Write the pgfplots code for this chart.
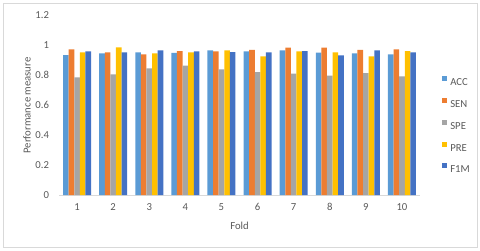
\documentclass[border=0pt]{standalone}
\usepackage{pgfplots}
\pgfplotsset{compat=1.18}
\usepackage{fontspec}
\setmainfont{Carlito}
\definecolor{cACC}{HTML}{5B9BD5}
\definecolor{cSEN}{HTML}{ED7D31}
\definecolor{cSPE}{HTML}{A5A5A5}
\definecolor{cPRE}{HTML}{FFC000}
\definecolor{cF1M}{HTML}{4472C4}
\definecolor{txt}{HTML}{595959}
\definecolor{lgrid}{HTML}{D9D9D9}
\begin{document}
\begin{tikzpicture}[x=1pt,y=1pt]
\useasboundingbox (0,0) rectangle (480,250);
\draw[lgrid, line width=0.75pt] (3,3) rectangle (477,247);
\begin{axis}[
  at={(59pt,55pt)}, anchor=south west,
  scale only axis, width=361pt, height=180pt,
  ybar=0pt, bar width=5.6pt,
  xmin=0.5, xmax=10.5, ymin=0, ymax=1.2,
  xtick={1,...,10},
  ytick={0,0.2,...,1.2},
  yticklabels={0,0.2,0.4,0.6,0.8,1,1.2},
  axis x line*=bottom, axis y line*=left,
  x axis line style={lgrid, line width=0.75pt},
  y axis line style={draw=none},
  major tick length=0pt,
  tick style={draw=none},
  font=\fontsize{10.7}{12}\selectfont,
  ticklabel style={text=txt, font=\fontsize{10.7}{12}\selectfont},
  /pgf/number format/assume math mode=true,
  yticklabel style={xshift=-6.5pt},
  xticklabel style={yshift=-5pt},
  xlabel={Fold}, ylabel={Performance measure},
  label style={text=txt, font=\fontsize{10.7}{12}\selectfont},
  xlabel style={at={(axis description cs:0.5,-0.17)}, anchor=center},
  ylabel style={at={(axis description cs:-0.0886,0.497)}, anchor=center},
  legend style={at={(axis description cs:1.053,0.392)}, anchor=west, draw=none, fill=none,
    font=\fontsize{10.7}{12}\selectfont, text=txt,
    nodes={inner sep=0pt, text height=6.9pt, text depth=0pt},
    row sep=12.4pt},
  legend cell align=left,
  legend image code/.code={\fill[#1] (0pt,1pt) rectangle (5pt,6pt); \path (8pt,0pt);},
]
\addplot[fill=cACC, draw=none] coordinates {(1,0.933) (2,0.944) (3,0.951) (4,0.947) (5,0.964) (6,0.958) (7,0.964) (8,0.949) (9,0.944) (10,0.938)};
\addplot[fill=cSEN, draw=none] coordinates {(1,0.971) (2,0.951) (3,0.938) (4,0.960) (5,0.958) (6,0.967) (7,0.982) (8,0.982) (9,0.967) (10,0.971)};
\addplot[fill=cSPE, draw=none] coordinates {(1,0.785) (2,0.804) (3,0.844) (4,0.862) (5,0.838) (6,0.820) (7,0.809) (8,0.796) (9,0.813) (10,0.791)};
\addplot[fill=cPRE, draw=none] coordinates {(1,0.951) (2,0.984) (3,0.944) (4,0.951) (5,0.964) (6,0.924) (7,0.958) (8,0.951) (9,0.924) (10,0.960)};
\addplot[fill=cF1M, draw=none] coordinates {(1,0.958) (2,0.951) (3,0.964) (4,0.958) (5,0.953) (6,0.951) (7,0.960) (8,0.931) (9,0.964) (10,0.951)};
\legend{ACC,SEN,SPE,PRE,F1M}
\end{axis}
\end{tikzpicture}
\end{document}
